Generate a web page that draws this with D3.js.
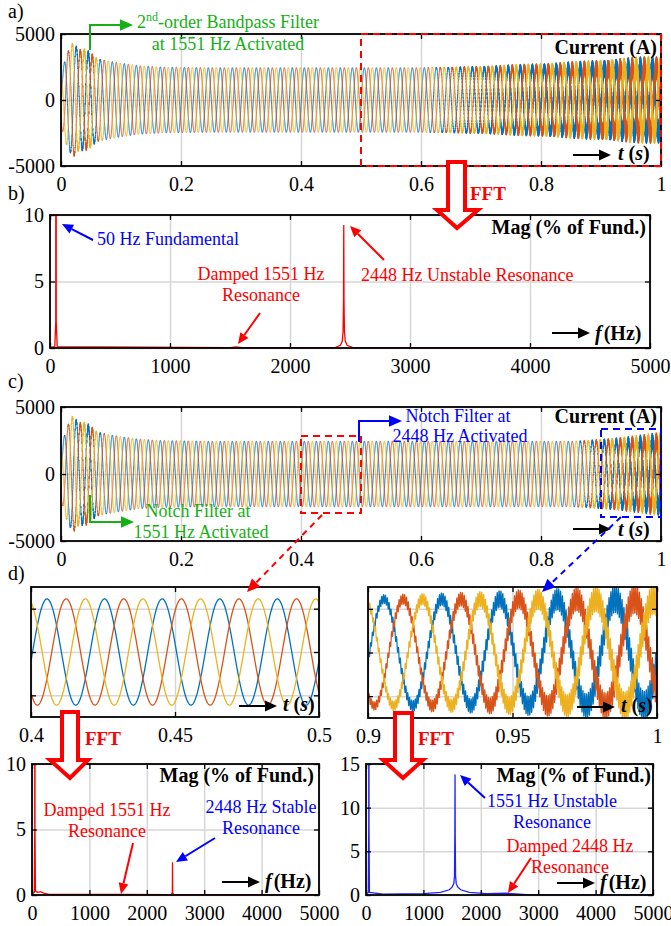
<!DOCTYPE html>
<html>
<head>
<meta charset="utf-8">
<script src="https://cdn.jsdelivr.net/npm/d3@7"></script>
<style>
body { margin: 0; background: #fff; }
svg { display: block; font-family: "Liberation Serif", "Times New Roman", serif; }
svg text { font-family: "Liberation Serif", "Times New Roman", serif; }
</style>
</head>
<body>
<svg id="main" width="671" height="926"></svg>
<script>
// ---- tick values ----
const timeTicks = [0, 0.2, 0.4, 0.6, 0.8, 1];
const currentTicks = [-5000, 0, 5000];
const freqTicks = [0, 1000, 2000, 3000, 4000, 5000];
const zoomTicksL = [0.4, 0.45, 0.5];
const zoomTicksR = [0.9, 0.95, 1];
const zoomGrid = [-2000, 0, 2000];
const magTicks10 = [0, 5, 10];
const magTicks15 = [0, 5, 10, 15];

// ---- phase currents ----
const fundHz = 50;
const res1551Hz = 1551;
const res2448Hz = 2448;
const phaseDeg = [0, -120, 120];          // blue, orange, yellow
// peak of the 50 Hz component (A)
const envTime = [0, 0.01, 0.02, 0.03, 0.04, 0.05, 0.06, 0.08, 0.1, 0.13, 0.17, 0.25, 1.0];
const fundAmp = [2000, 3500, 4300, 3700, 3700, 3400, 3100, 2950, 2800, 2600, 2500, 2450, 2450];
// peak of the resonance components (A)
const resTime = [0, 0.02, 0.04, 0.048, 0.06, 0.08, 0.6, 0.65, 0.7, 0.8, 0.85, 0.88, 0.9, 0.93, 0.96, 1.0];
const r1551A  = [0, 120, 220, 260, 80, 0, 0, 0, 0, 0, 0, 0, 0, 0, 0, 0];
const r2448A  = [0, 0, 0, 0, 0, 0, 0, 60, 140, 350, 480, 560, 640, 740, 830, 920];
const r1551C  = [0, 120, 220, 260, 80, 0, 0, 0, 0, 0, 0, 100, 180, 300, 460, 700];
const r2448C  = [0, 0, 0, 0, 0, 0, 0, 0, 0, 0, 0, 0, 0, 0, 0, 0];

// ---- FFT spectra (% of fundamental) ----
const specBFreq = [0, 40, 48, 50, 52, 60, 1500, 1551, 1600, 2380, 2420, 2435, 2442, 2446, 2448, 2450, 2454, 2461, 2476, 2520, 5000];
const specBMag  = [0.05, 0.1, 2, 100, 2, 0.1, 0.03, 0.08, 0.03, 0.05, 0.2, 0.5, 1.2, 3.5, 9.25, 3.5, 1.2, 0.5, 0.2, 0.05, 0.02];
const specE1Freq = [0, 40, 48, 50, 52, 60, 100, 150, 200, 300, 1551, 2430, 2445, 2448, 2451, 2466, 5000];
const specE1Mag  = [0.1, 0.2, 5, 100, 5, 0.3, 0.2, 0.25, 0.15, 0.05, 0.05, 0.03, 0.2, 2.5, 0.2, 0.03, 0.02];
const specE2Freq = [0, 40, 48, 50, 52, 60, 300, 1000, 1300, 1450, 1500, 1530, 1542, 1548, 1551, 1554, 1560, 1572, 1600, 1650, 1800, 2100, 2448, 2800, 5000];
const specE2Mag  = [0.1, 0.3, 8, 100, 8, 0.3, 0.1, 0.15, 0.3, 0.6, 0.9, 1.3, 2.2, 7, 13.8, 7, 2.2, 1.3, 0.9, 0.6, 0.3, 0.15, 0.2, 0.05, 0.02];

const phaseColors = ["#0072BD", "#D95319", "#EDB120"];
const RED = "#ff0000", BLUE = "#0000ff", GREEN = "#16b016";
const SERIF = '"Liberation Serif", "Times New Roman", serif';

const svg = d3.select("#main");
const defs = svg.append("defs");
let clipN = 0;

function panel(p) {
  const x = d3.scaleLinear().domain(p.xDom).range([p.x0, p.x1]);
  const y = d3.scaleLinear().domain(p.yDom).range([p.y1, p.y0]);
  const h = p.y1 - p.y0, w = p.x1 - p.x0;
  const g = svg.append("g");
  // grid
  const grid = g.append("g").attr("class", "grid");
  grid.append("g").attr("transform", `translate(0,${p.y1})`)
    .call(d3.axisBottom(x).tickValues(p.xTicks).tickSize(-h).tickFormat(""));
  grid.append("g").attr("transform", `translate(${p.x0},0)`)
    .call(d3.axisLeft(y).tickValues(p.yTicks).tickSize(-w).tickFormat(""));
  grid.selectAll(".domain").remove();
  grid.selectAll("line").attr("stroke", "#d6d6d6").attr("stroke-width", 1.5);

  const id = "clip" + (clipN++);
  defs.append("clipPath").attr("id", id).append("rect")
    .attr("x", p.x0).attr("y", p.y0).attr("width", w).attr("height", h);
  const data = g.append("g").attr("clip-path", `url(#${id})`);

  const frame = g.append("g");
  const fmt = d => String(d);
  frame.append("g").attr("transform", `translate(0,${p.y1})`)
    .call(d3.axisBottom(x).tickValues(p.xTicks).tickSize(-5).tickPadding(11).tickFormat(fmt));
  frame.append("g").attr("transform", `translate(0,${p.y0})`)
    .call(d3.axisTop(x).tickValues(p.xTicks).tickSize(-5).tickFormat(""));
  frame.append("g").attr("transform", `translate(${p.x0},0)`)
    .call(d3.axisLeft(y).tickValues(p.yTicks).tickSize(-5).tickPadding(6).tickFormat(p.yLabels ? fmt : ""));
  frame.append("g").attr("transform", `translate(${p.x1},0)`)
    .call(d3.axisRight(y).tickValues(p.yTicks).tickSize(-5).tickFormat(""));
  frame.selectAll(".domain").remove();
  frame.selectAll("g").attr("font-family", null).attr("font-size", null);
  frame.selectAll("line").attr("stroke", "#000").attr("stroke-width", 1.3);
  frame.selectAll("text").style("font-family", SERIF)
    .style("font-size", "20px").attr("fill", "#000");
  frame.append("rect").attr("x", p.x0).attr("y", p.y0).attr("width", w).attr("height", h)
    .attr("fill", "none").attr("stroke", "#000").attr("stroke-width", 1.8);
  return { x, y, data, frame, g };
}

const lerp = (ts, vs) => d3.scaleLinear().domain(ts).range(vs).clamp(true);
function makeSignal(r1551, r2448) {
  const F = lerp(envTime, fundAmp), R1 = lerp(resTime, r1551), R2 = lerp(resTime, r2448);
  return (t, k) => {
    const ph = phaseDeg[k] * Math.PI / 180;
    return F(t) * Math.sin(2 * Math.PI * fundHz * t - 0.17 + ph)
      + R1(t) * Math.sin(2 * Math.PI * res1551Hz * t + ph)
      + R2(t) * Math.sin(2 * Math.PI * res2448Hz * t + ph + 0.6);
  };
}
const sigA = makeSignal(r1551A, r2448A);
const sigC = makeSignal(r1551C, r2448C);

function drawWaves(P, sig, t0, t1, fs, lw) {
  const n = Math.round((t1 - t0) * fs);
  const line = d3.line().x(d => P.x(d[0])).y(d => P.y(d[1]));
  [0, 1, 2].forEach(k => {
    const pts = d3.range(n + 1).map(i => { const t = t0 + i / fs; return [t, sig(t, k)]; });
    P.data.append("path").attr("d", line(pts)).attr("fill", "none")
      .attr("stroke", phaseColors[k]).attr("stroke-width", lw).attr("stroke-linejoin", "round");
  });
}
function drawSpectrum(P, fr, mg, color, lw) {
  const line = d3.line().x((d, i) => P.x(fr[i])).y((d, i) => P.y(mg[i]));
  P.data.append("path").attr("d", line(fr)).attr("fill", "none")
    .attr("stroke", color).attr("stroke-width", lw);
}

// ---- annotation helpers ----
function arrow(pts, color, lw, dash, head) {
  head = head || 11;
  const n = pts.length, a = pts[n - 2], b = pts[n - 1];
  const ang = Math.atan2(b[1] - a[1], b[0] - a[0]);
  const base = [b[0] - head * Math.cos(ang), b[1] - head * Math.sin(ang)];
  const line = pts.slice(0, n - 1).concat([base]);
  const pth = svg.append("path").attr("d", d3.line()(line)).attr("fill", "none")
    .attr("stroke", color).attr("stroke-width", lw);
  if (dash) pth.attr("stroke-dasharray", dash);
  const hw = head * 0.45;
  const l = [base[0] + hw * Math.sin(ang), base[1] - hw * Math.cos(ang)];
  const r = [base[0] - hw * Math.sin(ang), base[1] + hw * Math.cos(ang)];
  svg.append("path").attr("d", `M${b[0]},${b[1]}L${l[0]},${l[1]}L${r[0]},${r[1]}Z`).attr("fill", color);
}
function label(x, y, str, color, size, anchor, weight) {
  return svg.append("text").attr("x", x).attr("y", y).text(str).attr("fill", color)
    .attr("font-size", size).attr("text-anchor", anchor || "start")
    .attr("font-weight", weight || "normal");
}
function tLabel(xArrow0, xArrow1, yArrow, xt, yt, sym, unit) {
  arrow([[xArrow0, yArrow], [xArrow1, yArrow]], "#000", 2, null, 12);
  const t = svg.append("text").attr("x", xt).attr("y", yt).attr("font-size", 20).attr("font-weight", "bold");
  t.append("tspan").attr("font-style", "italic").text(sym);
  if (unit === "s") {
    t.append("tspan").text(" (");
    t.append("tspan").attr("font-style", "italic").text("s");
    t.append("tspan").text(")");
  } else {
    t.append("tspan").attr("dx", 2).text("(" + unit + ")");
  }
}
function fftArrow(xl, xr, yTop, yHead, xhl, xhr, tip) {
  const d = `M${xl},${yTop}L${xl},${yHead}L${xhl},${yHead}L${tip[0]},${tip[1]}L${xhr},${yHead}L${xr},${yHead}L${xr},${yTop}Z`;
  svg.append("path").attr("d", d).attr("fill", "#fff").attr("stroke", RED).attr("stroke-width", 4)
    .attr("stroke-linejoin", "miter");
}

// ---- panels ----
const PA = panel({ x0: 61, x1: 661, y0: 34, y1: 166, xDom: [0, 1], yDom: [-5000, 5000], xTicks: timeTicks, yTicks: currentTicks, yLabels: true });
const PB = panel({ x0: 50, x1: 650, y0: 215, y1: 348, xDom: [0, 5000], yDom: [0, 10], xTicks: freqTicks, yTicks: magTicks10, yLabels: true });
const PC = panel({ x0: 61, x1: 661, y0: 407, y1: 541, xDom: [0, 1], yDom: [-5000, 5000], xTicks: timeTicks, yTicks: currentTicks, yLabels: true });
const PD1 = panel({ x0: 31, x1: 319, y0: 587, y1: 717, xDom: [0.4, 0.5], yDom: [-3000, 3000], xTicks: zoomTicksL, yTicks: zoomGrid, yLabels: false });
const PD2 = panel({ x0: 368, x1: 657, y0: 587, y1: 718, xDom: [0.9, 1], yDom: [-3000, 3000], xTicks: zoomTicksR, yTicks: zoomGrid, yLabels: false });
const PE1 = panel({ x0: 32, x1: 319, y0: 764, y1: 895, xDom: [0, 5000], yDom: [0, 10], xTicks: freqTicks, yTicks: magTicks10, yLabels: true });
const PE2 = panel({ x0: 366, x1: 653, y0: 764, y1: 895, xDom: [0, 5000], yDom: [0, 15], xTicks: freqTicks, yTicks: magTicks15, yLabels: true });

drawWaves(PA, sigA, 0, 1, 12000, 1.0);
drawWaves(PC, sigC, 0, 1, 12000, 1.0);
drawWaves(PD1, sigC, 0.4, 0.5, 20000, 1.3);
drawWaves(PD2, sigC, 0.9, 1.0, 40000, 1.2);
drawSpectrum(PB, specBFreq, specBMag, RED, 1.3);
drawSpectrum(PE1, specE1Freq, specE1Mag, RED, 1.3);
drawSpectrum(PE2, specE2Freq, specE2Mag, "#2020ff", 1.3);

// bring frames over the data
[PA, PB, PC, PD1, PD2, PE1, PE2].forEach(P => P.frame.raise());

// ---- panel letters ----
label(8, 18, "a)", "#000", 20);
label(8, 200, "b)", "#000", 20);
label(8, 388, "c)", "#000", 20);
label(8, 580, "d)", "#000", 20);

// ---- panel a ----
label(657, 54, "Current (A)", "#000", 20, "end", "bold");
tLabel(573, 611, 155, 618, 160, "t", "s");
svg.append("rect").attr("x", PA.x(0.5)).attr("y", 34).attr("width", PA.x(1) - PA.x(0.5)).attr("height", 132)
  .attr("fill", "none").attr("stroke", RED).attr("stroke-width", 2).attr("stroke-dasharray", "7,5");
arrow([[90, 50], [90, 25], [133, 25]], GREEN, 2, null, 13);
const ga = label(137, 28, "", GREEN, 18);
ga.append("tspan").text("2");
ga.append("tspan").attr("font-size", 12).attr("dy", -7).text("nd");
ga.append("tspan").attr("dy", 7).text("-order Bandpass Filter");
label(228, 50, "at 1551 Hz Activated", GREEN, 18, "middle");

// FFT arrow a -> b
fftArrow(448, 465, 162, 210, 437, 478, [457, 228]);
label(470, 200, "FFT", RED, 19, "start", "bold");

// ---- panel b ----
label(646, 234, "Mag (% of Fund.)", "#000", 20, "end", "bold");
tLabel(552, 590, 333, 595, 340, "f", "Hz");
arrow([[93, 240], [62, 224]], BLUE, 2);
label(97, 245, "50 Hz Fundamental", BLUE, 18);
label(261, 280, "Damped 1551 Hz", RED, 18, "middle");
label(261, 301, "Resonance", RED, 18, "middle");
arrow([[260, 313], [238, 344]], RED, 2);
arrow([[384, 260], [350, 226]], RED, 2);
label(361, 281, "2448 Hz Unstable Resonance", RED, 18);

// ---- panel c ----
label(657, 423, "Current (A)", "#000", 20, "end", "bold");
tLabel(573, 611, 529, 618, 536, "t", "s");
svg.append("rect").attr("x", PC.x(0.4)).attr("y", 436).attr("width", PC.x(0.5) - PC.x(0.4)).attr("height", 77)
  .attr("fill", "none").attr("stroke", RED).attr("stroke-width", 2).attr("stroke-dasharray", "7,5");
svg.append("rect").attr("x", PC.x(0.9)).attr("y", 429).attr("width", PC.x(1) - PC.x(0.9)).attr("height", 88)
  .attr("fill", "none").attr("stroke", BLUE).attr("stroke-width", 2).attr("stroke-dasharray", "7,5");
arrow([[90, 495], [90, 522], [134, 522]], GREEN, 2, null, 13);
label(198, 517, "Notch Filter at", GREEN, 18, "middle");
label(201, 538, "1551 Hz Activated", GREEN, 18, "middle");
arrow([[359, 442], [359, 421], [402, 421]], BLUE, 2, null, 13);
label(458, 422, "Notch Filter at", BLUE, 18, "middle");
label(460, 442, "2448 Hz Activated", BLUE, 18, "middle");
arrow([[322, 515], [247, 592]], RED, 2, "6,5", 13);
arrow([[621, 517], [542, 592]], BLUE, 2, "6,5", 13);

// ---- panel d ----
tLabel(239, 277, 706, 283, 711, "t", "s");
tLabel(577, 615, 707, 621, 712, "t", "s");
fftArrow(62, 78, 712, 760, 50, 88, [70, 778]);
label(85, 745, "FFT", RED, 19, "start", "bold");
fftArrow(395, 412, 713, 760, 383, 423, [403, 778]);
label(418, 745, "FFT", RED, 19, "start", "bold");

// ---- spectra of d ----
label(314, 782, "Mag (% of Fund.)", "#000", 20, "end", "bold");
tLabel(222, 260, 882, 265, 888, "f", "Hz");
label(107, 816, "Damped 1551 Hz", RED, 18, "middle");
label(107, 837, "Resonance", RED, 18, "middle");
arrow([[133, 843], [121, 894]], RED, 2);
label(261, 813, "2448 Hz Stable", BLUE, 18, "middle");
label(261, 834, "Resonance", BLUE, 18, "middle");
arrow([[215, 838], [176, 862]], BLUE, 2);

label(651, 782, "Mag (% of Fund.)", "#000", 20, "end", "bold");
tLabel(557, 595, 883, 600, 889, "f", "Hz");
label(487, 807, "1551 Hz Unstable", BLUE, 18);
label(552, 828, "Resonance", BLUE, 18, "middle");
arrow([[485, 798], [460, 775]], BLUE, 2);
label(570, 852, "Damped 2448 Hz", RED, 18, "middle");
label(570, 873, "Resonance", RED, 18, "middle");
arrow([[531, 858], [508, 893]], RED, 2);
</script>
</body>
</html>
